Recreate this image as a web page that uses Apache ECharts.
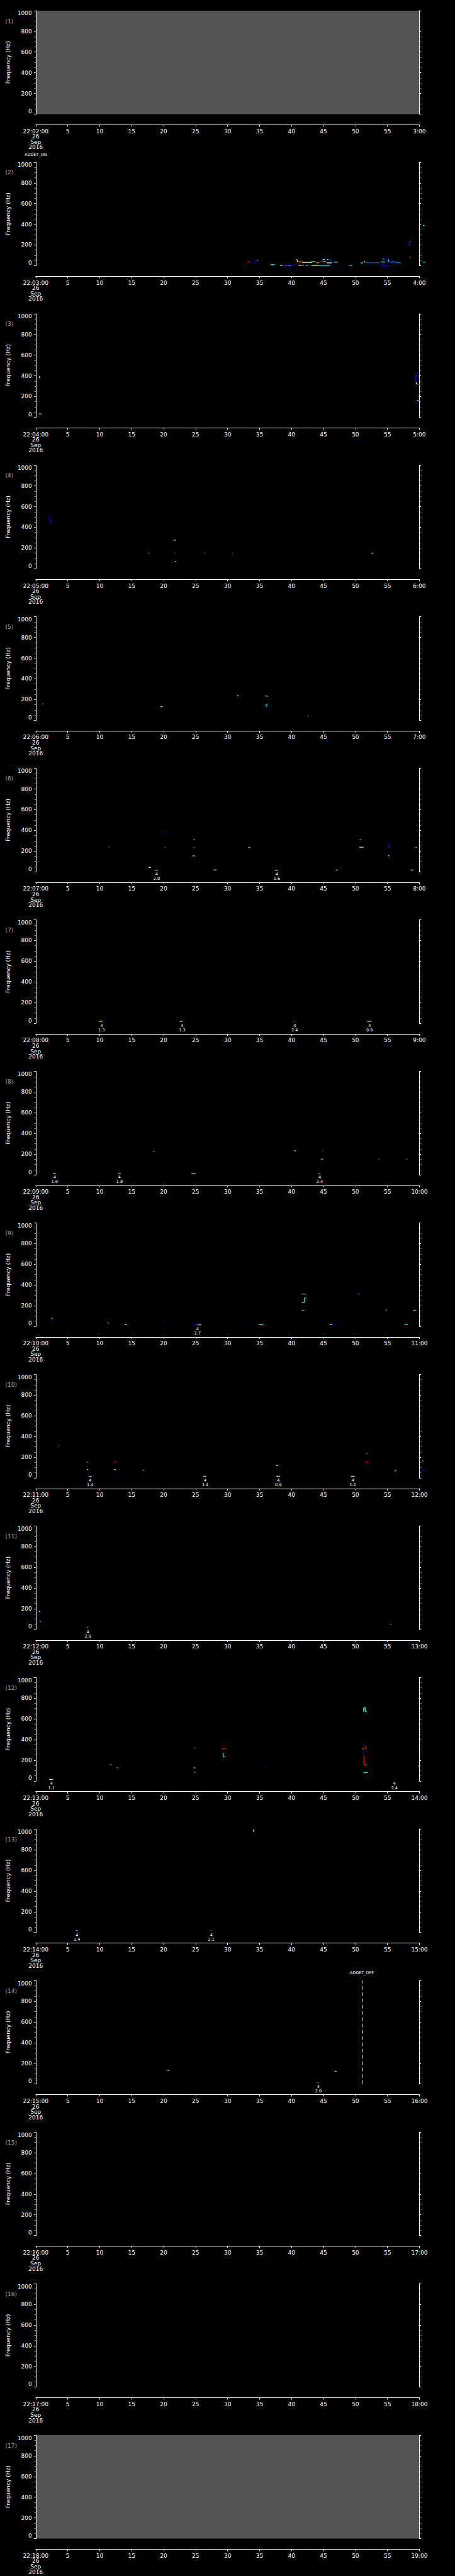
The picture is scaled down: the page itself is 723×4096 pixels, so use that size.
<!DOCTYPE html>
<html><head><meta charset="utf-8">
<script src="https://cdn.jsdelivr.net/npm/echarts@6/dist/echarts.min.js"></script>
<style>html,body{margin:0;padding:0;background:#000}#c{width:723px;height:4096px}</style>
</head><body><div id="c"></div>
<script>
// ---- colour codes (position in jet colour scale 0..1) ----
const B = 0.125, LB = 0.25, C = 0.375, G = 0.5, Y = 0.625, O = 0.75, R = 0.875;

// ---- axis / tick labels ----
const panelStarts = ['22:02:00','22:03:00','22:04:00','22:05:00','22:06:00','22:07:00','22:08:00','22:09:00','22:10:00','22:11:00','22:12:00','22:13:00','22:14:00','22:15:00','22:16:00','22:17:00','22:18:00'];
const panelEnds = ['3:00','4:00','5:00','6:00','7:00','8:00','9:00','10:00','11:00','12:00','13:00','14:00','15:00','16:00','17:00','18:00','19:00'];
const dateLines = ['26','Sep','2016'];
const xTickLabels = ['5','10','15','20','25','30','35','40','45','50','55'];
const yTickValues = [0,200,400,600,800,1000];
const yAxisName = 'Frequency (Hz)';
const grayPanels = [1, 17];

// ---- events ----
const eventPanels = [2, 14];
const eventTimes = [0, 51];
const eventTexts = ['ADDET_ON', 'ADDET_OFF'];

// ---- spectral marks per panel: [tStart s, tEnd s, fLow Hz, fHigh Hz, colour] ----
const p01 = [];
const p02 = [
 [33.05,33.5,38,38,R],[33.8,34.45,38,38,B],[34.55,34.8,48,52,0.3],[36.7,37.4,9,9,C],
 [38.25,38.55,0,0,Y],[38.6,39.0,0,0,B],[39.0,39.3,0,0,R],[39.4,39.95,0,0,LB],[40.1,40.6,9,9,B],
 [40.7,40.9,56,56,Y],[40.88,40.93,36,56,Y],[40.93,41.8,36,36,O],[41.7,43.2,31,31,0.55],
 [41.06,41.57,4,4,Y],[41.7,41.9,4,4,Y],[42.15,42.7,2,2,0.3],[43.1,43.7,36,44,C],
 [43.1,44.2,2,2,0.6],[44.2,46.0,2,2,0.35],[43.85,44.35,28,28,O],[44.5,45.0,40,40,0.85],
 [45.0,45.4,40,40,0.7],[44.84,45.2,60,60,C],[45.5,45.76,60,60,C],[45.9,46.4,51,51,B],
 [45.5,46.3,27,27,Y],[46.2,46.7,34,34,0.2],[46.7,47.2,34,34,0.6],[49.0,49.5,0,0,0.3],
 [50.8,51.2,26,26,0.35],[51.3,51.5,33,43,Y],[51.5,53.8,28,28,0.2],[53.95,54.65,36,36,C],
 [54.2,54.55,64,64,0.3],[54.7,55.2,60,60,B],[55.15,55.22,36,60,C],[55.2,56.5,36,36,LB],
 [56.4,57.1,28,28,LB],[54.07,55.1,0,0,B],[58.41,58.46,197,236,B],[58.43,58.66,236,236,R],
 [58.3,58.42,197,197,R],[58.43,58.66,81,81,0.8],[60.55,60.8,388,388,C],[60.55,60.9,34,34,C]
];
const p03 = [
 [0.5,0.7,378,396,C],[0.5,0.9,30,32,C],[59.38,59.45,336,424,B],[59.45,59.55,318,336,Y],
 [59.55,60.0,316,318,R],[60.0,60.2,320,320,G],[59.5,59.58,131,159,B],[59.58,60.05,159,159,C]
];
const p04 = [
 [2.1,2.2,480,505,B],[2.25,2.35,436,480,B],[21.5,21.56,273,301,B],[21.55,21.95,275,275,0.7],
 [17.5,17.9,150,150,R],[21.7,22.0,150,150,R],[26.3,26.6,150,150,R],[30.6,30.9,146,150,R],
 [52.5,52.8,150,150,Y],[21.8,22.0,71,71,0.6]
];
const p05 = [
 [1.0,1.2,157,157,O],[19.5,19.8,131,131,G],[31.5,31.65,236,245,Y],[31.6,31.7,230,236,R],
 [35.8,36.05,236,239,R],[36.05,36.3,232,232,C],[36.0,36.08,131,153,C],[36.08,36.25,153,153,C],
 [42.5,42.6,41,41,0.6]
];
const p06 = [
 [11.3,11.55,234,241,0.2],[20.2,20.4,389,389,B],[20.1,20.4,234,234,R],[24.7,24.9,310,310,0.45],
 [24.6,24.95,234,234,R],[24.5,24.9,153,153,C],[33.3,33.5,234,234,C],[50.6,51.0,308,316,0.25],
 [50.6,51.3,237,237,0.45],[55.2,55.26,234,286,B],[55.05,55.2,234,234,R],[55.1,55.3,155,155,C],
 [59.4,59.6,234,234,C],[17.65,18.0,41,41,0.6],[18.6,19.1,15,15,C],[27.8,28.3,15,20,0.55],
 [37.4,37.9,15,15,Y],[46.9,47.25,15,18,0.55],[58.6,59.1,15,18,0.55]
];
const p07 = [
 [9.9,10.45,19,19,0.6],[22.5,23.0,19,19,0.55],[40.3,40.6,19,19,0.2],[51.8,52.5,19,19,0.45]
];
const p08 = [
 [2.7,3.15,13,13,0.45],[12.9,13.3,13,13,0.42],[18.3,18.6,226,226,0.8],[24.35,25.0,13,17,0.45],
 [40.4,40.7,232,232,0.42],[44.65,44.8,232,232,B],[44.8,44.95,232,232,R],[44.55,45.0,148,153,0.8],
 [44.2,44.5,13,13,0.3],[53.55,53.8,150,150,R],[57.9,58.2,151,151,R]
];
const p09 = [
 [2.4,2.65,71,82,0.3],[11.25,11.5,32,32,C],[13.9,14.2,19,19,Y],[14.2,14.5,15,15,B],
 [20.0,20.25,32,32,B],[24.7,25.3,17,17,B],[25.3,25.9,15,15,0.65],[33.0,33.3,32,32,B],
 [34.9,35.25,19,19,Y],[35.25,35.6,15,15,C],[41.6,42.3,312,312,O],[41.6,41.9,224,234,0.7],
 [41.9,42.05,234,234,C],[42.0,42.06,234,275,C],[42.05,42.3,275,275,C],[41.6,42.0,150,159,0.3],
 [46.0,46.35,19,19,Y],[46.35,46.7,15,15,B],[50.3,50.7,308,318,0.2],[54.7,54.9,157,157,O],
 [57.65,58.2,15,17,0.35],[59.0,59.5,155,155,O]
];
const p10 = [
 [3.5,3.7,310,310,R],[3.7,3.9,314,318,B],[8.0,8.2,151,151,O],[8.0,8.2,80,80,0.6],
 [8.3,8.75,15,15,C],[12.3,12.6,153,153,R],[12.25,12.5,80,80,0.6],[12.5,12.7,62,78,B],
 [16.75,17.0,67,80,0.25],[26.2,26.7,15,15,0.45],[37.6,37.9,118,127,Y],[37.9,38.25,123,123,B],
 [37.6,38.2,15,15,0.48],[49.25,49.9,15,15,G],[51.6,52.0,234,237,R],[51.6,52.0,151,155,R],
 [56.1,56.4,62,80,0.25],[60.4,60.6,164,164,O],[60.6,60.85,170,174,B],[60.5,60.8,67,80,B]
];
const p11 = [
 [0.5,0.7,172,172,Y],[0.7,0.95,176,178,B],[0.6,0.8,71,84,0.25],[8.0,8.2,15,15,Y],[55.3,55.7,45,45,R]
];
const p12 = [
 [2.1,2.7,15,15,0.65],[11.6,11.85,157,157,O],[12.65,12.9,127,127,O],[24.7,24.95,320,320,R],
 [24.7,24.95,127,127,G],[24.7,25.0,84,84,0.3],[29.1,29.8,310,318,R],[29.25,29.35,234,273,C],
 [29.3,29.7,234,234,0.3],[35.8,36.1,121,129,B],
 [51.25,51.3,669,710,C],[51.3,51.5,710,710,C],[51.5,51.55,669,710,C],[51.55,51.75,669,669,C],
 [51.3,51.55,342,350,B],[51.55,51.6,310,342,R],[51.6,51.75,310,310,R],[51.1,51.3,310,310,Y],
 [51.25,51.28,234,310,0.05],[51.2,51.3,234,234,R],[51.3,51.35,155,234,R],[51.35,51.6,155,155,R],
 [51.6,51.8,155,155,C],[51.25,51.9,80,82,0.35],[55.95,56.25,15,15,B],[59.9,60.1,137,155,Y]
];
const p13 = [
 [34.0,34.1,972,996,Y],[6.25,6.6,19,19,0.3],[27.3,27.6,19,19,0.2]
];
const p14 = [
 [20.6,20.9,127,135,0.55],[46.7,47.1,120,127,0.4],[43.9,44.35,13,13,0.2]
];
const p15 = [];
const p16 = [];
const p17 = [];
const panelMarks = [p01,p02,p03,p04,p05,p06,p07,p08,p09,p10,p11,p12,p13,p14,p15,p16,p17];

// ---- event annotations per panel: [t s, count, value] ----
const l06 = [[18.9,4,2.0],[37.7,4,1.6]];
const l07 = [[10.3,4,1.3],[22.9,4,1.3],[40.5,4,2.4],[52.2,4,0.9]];
const l08 = [[2.95,4,1.9],[13.1,4,1.8],[44.4,4,2.4]];
const l09 = [[25.3,4,2.7]];
const l10 = [[8.5,4,1.4],[26.5,4,1.4],[37.95,4,0.9],[49.6,4,1.2]];
const l11 = [[8.15,4,2.9]];
const l12 = [[2.45,4,1.1],[56.1,4,2.4]];
const l13 = [[6.45,4,2.4],[27.45,4,2.1]];
const l14 = [[44.2,4,2.0]];
const panelLabels = [[],[],[],[],[],l06,l07,l08,l09,l10,l11,l12,l13,l14,[],[],[]];

// ---- layout (styling only) ----
const S = 0.706;
const N = 17;
const panelH = 4096 / N;
const gridLeft = 80 * S, gridWidth = (944 - 80) * S;
const gridTopOff = 24 * S, gridH = 233 * S;
const FONT = 'DejaVu Sans';
const jet = ['#00007f','#0000ff','#007fff','#00ffff','#7fff7f','#ffff00','#ff7f00','#ff0000','#7f0000'];

function renderSeg(params, api) {
  const a = api.coord([api.value(0), api.value(2)]);
  const b = api.coord([api.value(1), api.value(3)]);
  let x = Math.min(a[0], b[0]), w = Math.abs(b[0] - a[0]);
  let y = Math.min(a[1], b[1]), h = Math.abs(b[1] - a[1]);
  const m = 1.3;
  if (w < m) { x -= (m - w) / 2; w = m; }
  if (h < m) { y -= (m - h) / 2; h = m; }
  return { type: 'rect', shape: { x, y, width: w, height: h }, style: { fill: api.visual('color') } };
}
function renderLab(params, api) {
  const p = api.coord([api.value(0), 0]);
  return { type: 'group', children: [
    { type: 'text', x: p[0], y: p[1] + 4.3, style: { text: String(api.value(1)), fill: '#fff', font: '6.5px ' + FONT, align: 'center', verticalAlign: 'middle' } },
    { type: 'text', x: p[0], y: p[1] + 11, style: { text: Number(api.value(2)).toFixed(1), fill: '#fff', font: '6.5px ' + FONT, align: 'center', verticalAlign: 'middle' } }
  ]};
}

const grids = [], xAxes = [], yAxes = [], series = [], titles = [], markIdx = [];
for (let i = 0; i < N; i++) {
  const top = i * panelH;
  const gray = grayPanels.indexOf(i + 1) >= 0;
  grids.push({ left: gridLeft, width: gridWidth, top: top + gridTopOff, height: gridH,
    show: gray, backgroundColor: gray ? '#555555' : 'transparent', borderWidth: 0 });
  const start = panelStarts[i], end = panelEnds[i];
  xAxes.push({ type: 'value', gridIndex: i, min: 0, max: 60, interval: 5, offset: 24 * S,
    axisLine: { show: true, onZero: false, lineStyle: { color: '#fff', width: 1 } },
    axisTick: { show: true, length: 3, lineStyle: { color: '#fff' } },
    splitLine: { show: false },
    axisLabel: { color: '#fff', fontFamily: FONT, fontSize: 9, lineHeight: 8.6, margin: 6, interval: 0,
      showMinLabel: true, showMaxLabel: true,
      formatter: v => v === 0 ? [start].concat(dateLines).join('\n') : (v === 60 ? end : xTickLabels[v / 5 - 1]) } });
  const yCommon = { type: 'value', gridIndex: i, min: 0, max: 1000, interval: 200,
    axisLine: { show: true, onZero: false, lineStyle: { color: '#fff', width: 1 } },
    axisTick: { show: true, length: 2.8, lineStyle: { color: '#fff' } },
    minorTick: { show: true, splitNumber: 4, length: 1.6, lineStyle: { color: '#fff' } },
    splitLine: { show: false }, minorSplitLine: { show: false } };
  yAxes.push(Object.assign({}, yCommon, { position: 'left', name: yAxisName, nameLocation: 'middle', nameGap: 35,
    nameTextStyle: { color: '#fff', fontFamily: FONT, fontSize: 9 },
    axisLabel: { color: '#fff', fontFamily: FONT, fontSize: 9, margin: 6,
      verticalAlignMinLabel: 'bottom', verticalAlignMaxLabel: 'top',
      formatter: v => yTickValues.indexOf(v) >= 0 ? String(v) : '' } }));
  yAxes.push(Object.assign({}, yCommon, { position: 'right', axisLabel: { show: false } }));
  titles.push({ text: '(' + (i + 1) + ')', left: 8.5, top: top + 29, padding: 0,
    textStyle: { color: '#a8a8a8', fontFamily: FONT, fontSize: 9, fontWeight: 'normal' } });

  const ev = eventPanels.indexOf(i + 1);
  const s = { type: 'custom', name: 'marks' + (i + 1), xAxisIndex: i, yAxisIndex: 2 * i,
    data: panelMarks[i], renderItem: renderSeg, clip: false, encode: { x: [0, 1], y: [2, 3] }, silent: true };
  if (ev >= 0) {
    s.markLine = { silent: true, symbol: 'none', animation: false,
      lineStyle: { color: '#fff', type: [6, 4], width: 1 },
      label: { show: true, position: 'end', distance: 8.5, formatter: eventTexts[ev], color: '#fff', fontFamily: FONT, fontSize: 6.5 },
      data: [{ xAxis: eventTimes[ev] }] };
  }
  markIdx.push(series.length);
  series.push(s);
  if (panelLabels[i].length) {
    series.push({ type: 'custom', name: 'labels' + (i + 1), xAxisIndex: i, yAxisIndex: 2 * i,
      data: panelLabels[i], renderItem: renderLab, clip: false, encode: { x: 0, y: 1 }, silent: true });
  }
}

const chart = echarts.init(document.getElementById('c'), null, { renderer: 'svg', width: 723, height: 4096 });
chart.setOption({
  backgroundColor: '#000',
  animation: false,
  textStyle: { fontFamily: FONT },
  title: titles,
  grid: grids,
  xAxis: xAxes,
  yAxis: yAxes,
  visualMap: { show: false, type: 'continuous', min: 0, max: 1, dimension: 4, seriesIndex: markIdx, inRange: { color: jet } },
  series: series
});
</script></body></html>
